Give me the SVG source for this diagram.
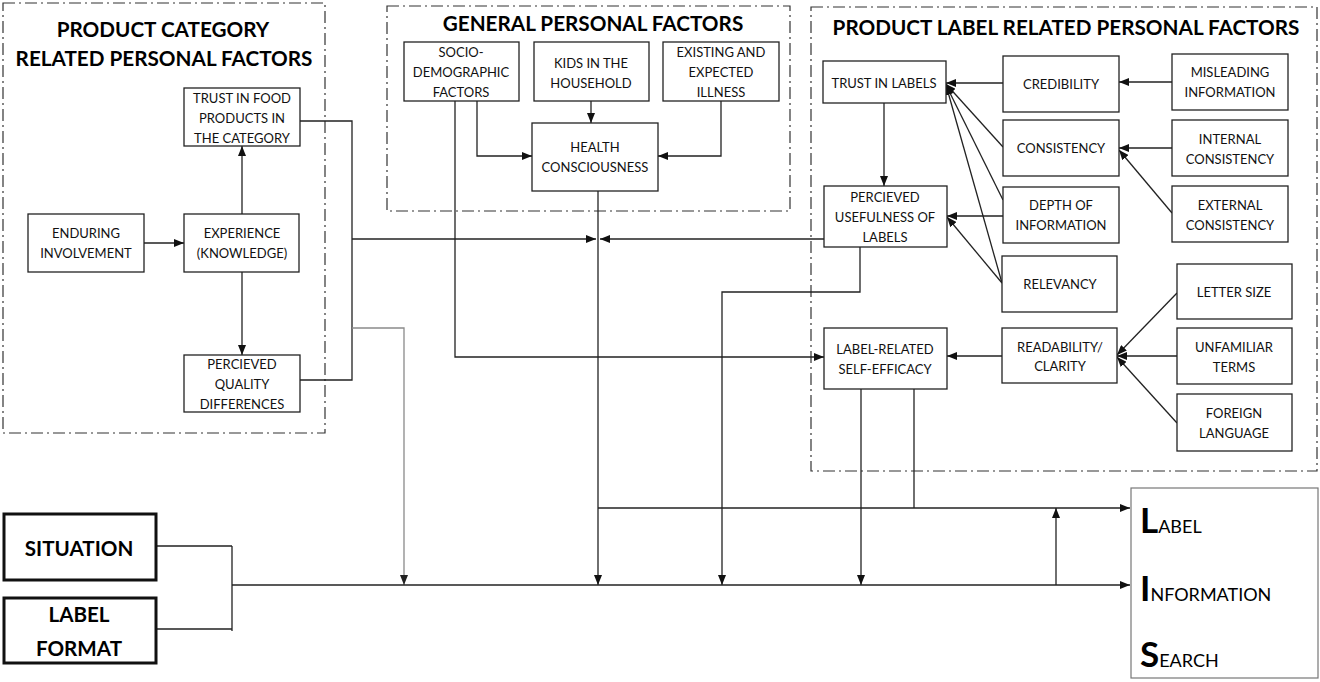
<svg xmlns="http://www.w3.org/2000/svg" width="1320" height="682" viewBox="0 0 1320 682">
<style>
.bg{fill:#fff}
.grp{fill:none;stroke:#333;stroke-width:1.2;stroke-dasharray:12 4 2 4}
.box{fill:#fff;stroke:#222;stroke-width:1.3}
.thick{fill:#fff;stroke:#111;stroke-width:3}
.lis{fill:#fff;stroke:#777;stroke-width:1.2}
.t{font-family:Lato,"Open Sans",sans-serif;font-size:13px;fill:#111;text-anchor:middle}
.title{font-family:Lato,"Open Sans",sans-serif;font-weight:700;font-size:20.7px;fill:#000;text-anchor:middle}
.big{font-family:Lato,"Open Sans",sans-serif;font-weight:700;font-size:20.6px;fill:#000;text-anchor:middle}
.L{font-family:Lato,"Open Sans",sans-serif;font-weight:700;font-size:35px;fill:#000}
.s{font-family:Lato,"Open Sans",sans-serif;font-size:18px;fill:#000}
.c{fill:none;stroke:#222;stroke-width:1.3}
.g{fill:none;stroke:#8a8a8a;stroke-width:1.3}
</style>
<defs>
<marker id="a" markerUnits="userSpaceOnUse" markerWidth="11" markerHeight="8" refX="10" refY="4" orient="auto">
<path d="M0,0 L10,4 L0,8 z" fill="#111"/>
</marker>
<marker id="ag" markerUnits="userSpaceOnUse" markerWidth="11" markerHeight="8" refX="10" refY="4" orient="auto">
<path d="M0,0 L10,4 L0,8 z" fill="#222"/>
</marker>
</defs>
<rect class="bg" x="0" y="0" width="1320" height="682"/>

<g id="group-product-category">
<rect class="grp" x="3" y="3" width="322" height="430"/>
<text class="title" x="163" y="37">PRODUCT CATEGORY</text>
<text class="title" x="164" y="66">RELATED PERSONAL FACTORS</text>
</g>
<g id="group-general">
<rect class="grp" x="387" y="6" width="403" height="205"/>
<text class="title" x="593" y="31">GENERAL PERSONAL FACTORS</text>
</g>
<g id="group-label">
<rect class="grp" x="811" y="7" width="506" height="464"/>
<text class="title" x="1066" y="35">PRODUCT LABEL RELATED PERSONAL FACTORS</text>
</g>

<g id="connectors">
<path class="c" d="M144,243 H184" marker-end="url(#a)"/>
<path class="c" d="M242,214 V146" marker-end="url(#a)"/>
<path class="c" d="M242,272 V355" marker-end="url(#a)"/>
<path class="c" d="M300,121 H352 V380 H300"/>
<path class="c" d="M352,239 H596" marker-end="url(#a)"/>
<path class="g" d="M352,328 H404 V585" marker-end="url(#ag)"/>
<path class="c" d="M477,101 V156 H532" marker-end="url(#a)"/>
<path class="c" d="M591,101 V123" marker-end="url(#a)"/>
<path class="c" d="M721,101 V156 H658" marker-end="url(#a)"/>
<path class="c" d="M455,101 V357 H824" marker-end="url(#a)"/>
<path class="c" d="M598,191 V585" marker-end="url(#a)"/>
<path class="c" d="M824,239 H600" marker-end="url(#a)"/>
<path class="c" d="M860,247 V292 H722 V585" marker-end="url(#a)"/>
<path class="c" d="M598,508 H1130" marker-end="url(#a)"/>
<path class="c" d="M861,389 V585" marker-end="url(#a)"/>
<path class="c" d="M914,389 V508"/>
<path class="c" d="M157,546 H232 M157,629 H232 M232,546 V631"/>
<path class="c" d="M232,585 H1130" marker-end="url(#a)"/>
<path class="c" d="M1056,585 V508" marker-end="url(#a)"/>
<path class="c" d="M884,103 V186" marker-end="url(#a)"/>
<path class="c" d="M1003,83 H946" marker-end="url(#a)"/>
<path class="c" d="M1172,82 H1119" marker-end="url(#a)"/>
<path class="c" d="M1003,147 L946,84" marker-end="url(#a)"/>
<path class="c" d="M1003,200 L946,85" marker-end="url(#a)"/>
<path class="c" d="M1002,283 L946,85" marker-end="url(#a)"/>
<path class="c" d="M1003,216 H947" marker-end="url(#a)"/>
<path class="c" d="M1002,283 L947,217" marker-end="url(#a)"/>
<path class="c" d="M1172,148 H1119" marker-end="url(#a)"/>
<path class="c" d="M1172,213 L1119,150" marker-end="url(#a)"/>
<path class="c" d="M1177,293 L1117,355" marker-end="url(#a)"/>
<path class="c" d="M1177,356 H1117" marker-end="url(#a)"/>
<path class="c" d="M1177,423 L1117,357" marker-end="url(#a)"/>
<path class="c" d="M1002,356 H947" marker-end="url(#a)"/>
</g>

<g id="trust-food"><rect class="box" x="184" y="88" width="116" height="58"/>
<text class="t" x="242" y="103">TRUST IN FOOD</text><text class="t" x="242" y="123">PRODUCTS IN</text><text class="t" x="242" y="143">THE CATEGORY</text></g>
<g id="enduring"><rect class="box" x="28" y="214" width="116" height="58"/>
<text class="t" x="86" y="238">ENDURING</text><text class="t" x="86" y="258">INVOLVEMENT</text></g>
<g id="experience"><rect class="box" x="184" y="214" width="115" height="58"/>
<text class="t" x="242" y="238">EXPERIENCE</text><text class="t" x="242" y="258">(KNOWLEDGE)</text></g>
<g id="quality"><rect class="box" x="184" y="355" width="116" height="57"/>
<text class="t" x="242" y="369">PERCIEVED</text><text class="t" x="242" y="389">QUALITY</text><text class="t" x="242" y="409">DIFFERENCES</text></g>

<g id="socio"><rect class="box" x="404" y="42" width="115" height="59"/>
<text class="t" x="461" y="57">SOCIO-</text><text class="t" x="461" y="77">DEMOGRAPHIC</text><text class="t" x="461" y="97">FACTORS</text></g>
<g id="kids"><rect class="box" x="534" y="42" width="115" height="59"/>
<text class="t" x="591" y="68">KIDS IN THE</text><text class="t" x="591" y="88">HOUSEHOLD</text></g>
<g id="illness"><rect class="box" x="663" y="42" width="116" height="59"/>
<text class="t" x="721" y="57">EXISTING AND</text><text class="t" x="721" y="77">EXPECTED</text><text class="t" x="721" y="97">ILLNESS</text></g>
<g id="health"><rect class="box" x="532" y="123" width="126" height="68"/>
<text class="t" x="595" y="152">HEALTH</text><text class="t" x="595" y="172">CONSCIOUSNESS</text></g>

<g id="trust-labels"><rect class="box" x="823" y="61" width="123" height="42"/>
<text class="t" x="884" y="88">TRUST IN LABELS</text></g>
<g id="credibility"><rect class="box" x="1003" y="56" width="116" height="56"/>
<text class="t" x="1061" y="89">CREDIBILITY</text></g>
<g id="misleading"><rect class="box" x="1172" y="54" width="116" height="56"/>
<text class="t" x="1230" y="77">MISLEADING</text><text class="t" x="1230" y="97">INFORMATION</text></g>
<g id="consistency"><rect class="box" x="1003" y="120" width="116" height="56"/>
<text class="t" x="1061" y="153">CONSISTENCY</text></g>
<g id="internal"><rect class="box" x="1172" y="120" width="116" height="56"/>
<text class="t" x="1230" y="144">INTERNAL</text><text class="t" x="1230" y="164">CONSISTENCY</text></g>
<g id="depth"><rect class="box" x="1003" y="187" width="116" height="56"/>
<text class="t" x="1061" y="210">DEPTH OF</text><text class="t" x="1061" y="230">INFORMATION</text></g>
<g id="external"><rect class="box" x="1172" y="186" width="116" height="56"/>
<text class="t" x="1230" y="210">EXTERNAL</text><text class="t" x="1230" y="230">CONSISTENCY</text></g>
<g id="usefulness"><rect class="box" x="824" y="186" width="123" height="61"/>
<text class="t" x="885" y="202">PERCIEVED</text><text class="t" x="885" y="222">USEFULNESS OF</text><text class="t" x="885" y="242">LABELS</text></g>
<g id="relevancy"><rect class="box" x="1002" y="256" width="115" height="56"/>
<text class="t" x="1060" y="289">RELEVANCY</text></g>
<g id="letter-size"><rect class="box" x="1177" y="264" width="115" height="55"/>
<text class="t" x="1234" y="297">LETTER SIZE</text></g>
<g id="readability"><rect class="box" x="1002" y="328" width="115" height="55"/>
<text class="t" x="1060" y="352">READABILITY/</text><text class="t" x="1060" y="371">CLARITY</text></g>
<g id="unfamiliar"><rect class="box" x="1177" y="328" width="115" height="56"/>
<text class="t" x="1234" y="352">UNFAMILIAR</text><text class="t" x="1234" y="372">TERMS</text></g>
<g id="foreign"><rect class="box" x="1177" y="394" width="115" height="57"/>
<text class="t" x="1234" y="418">FOREIGN</text><text class="t" x="1234" y="438">LANGUAGE</text></g>
<g id="self-efficacy"><rect class="box" x="824" y="328" width="123" height="61"/>
<text class="t" x="885" y="354">LABEL-RELATED</text><text class="t" x="885" y="374">SELF-EFFICACY</text></g>

<g id="situation"><rect class="thick" x="4" y="514" width="152" height="66"/>
<text class="big" x="79" y="556">SITUATION</text></g>
<g id="label-format"><rect class="thick" x="4" y="598" width="152" height="65"/>
<text class="big" x="79" y="622">LABEL</text>
<text class="big" x="79" y="656">FORMAT</text></g>

<g id="lis"><rect class="lis" x="1131" y="488" width="187" height="190"/>
<text x="1140" y="533"><tspan class="L">L</tspan><tspan class="s">ABEL</tspan></text>
<text x="1140" y="601"><tspan class="L">I</tspan><tspan class="s">NFORMATION</tspan></text>
<text x="1140" y="667"><tspan class="L">S</tspan><tspan class="s">EARCH</tspan></text></g>
</svg>
